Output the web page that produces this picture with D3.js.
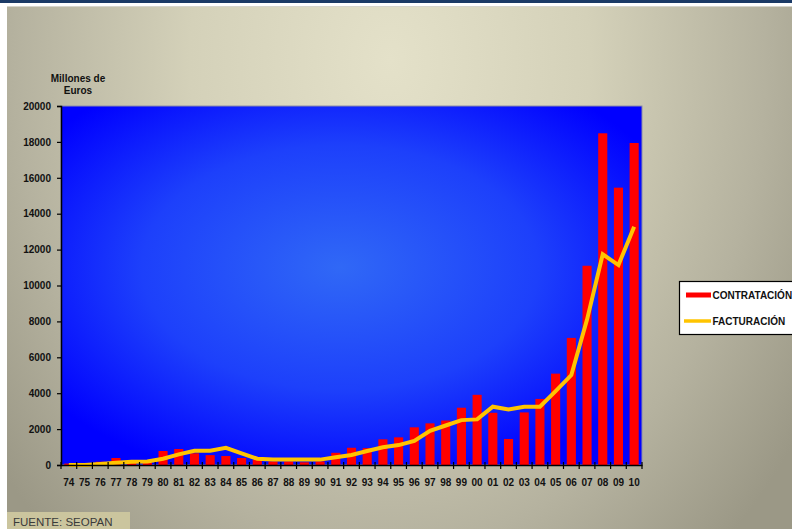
<!DOCTYPE html>
<html>
<head>
<meta charset="utf-8">
<script src="https://cdn.jsdelivr.net/npm/d3@7"></script>
<style>
  html, body { margin: 0; padding: 0; background: #ffffff; }
  svg { display: block; }
  text { font-family: "Liberation Sans", Arial, sans-serif; }
</style>
</head>
<body>
<svg id="chart" width="792" height="529"></svg>
<script>
// Years (two-digit labels) 1974–2010
const categories = ["74","75","76","77","78","79","80","81","82","83","84","85","86","87","88","89",
  "90","91","92","93","94","95","96","97","98","99","00","01","02","03","04","05","06","07","08","09","10"];

// Millones de euros
const contratacion = [80, 30, 180, 390, 150, 130, 780, 890, 650, 550, 500, 390, 280, 200, 200, 150,
  200, 680, 960, 940, 1430, 1540, 2100, 2320, 2480, 3190, 3910, 2910, 1450, 2930, 3680, 5090, 7080,
  11100, 18480, 15450, 17940];
const facturacion = [0, 0, 60, 130, 180, 200, 350, 590, 790, 800, 960, 650, 350, 300, 300, 300,
  300, 430, 560, 780, 990, 1110, 1340, 1900, 2200, 2500, 2540, 3250, 3100, 3250, 3250, 4120, 5010,
  8100, 11740, 11140, 13270];

const yTicks = [0, 2000, 4000, 6000, 8000, 10000, 12000, 14000, 16000, 18000, 20000];
const seriesNames = ["CONTRATACIÓN", "FACTURACIÓN"];

const svg = d3.select("#chart");
const W = 792, H = 529;
const plot = { left: 61, right: 642, top: 106, bottom: 465 };

const defs = svg.append("defs");

// Slide background
const bg = defs.append("radialGradient").attr("id", "bgGrad")
  .attr("gradientUnits", "userSpaceOnUse")
  .attr("cx", 390).attr("cy", 60).attr("r", 500)
  .attr("gradientTransform", "translate(390,60) scale(1,1.3) translate(-390,-60)");
bg.append("stop").attr("offset", "0").attr("stop-color", "#e4e1c9");
bg.append("stop").attr("offset", "0.4").attr("stop-color", "#d4d1b9");
bg.append("stop").attr("offset", "0.75").attr("stop-color", "#b5b29f");
bg.append("stop").attr("offset", "1").attr("stop-color", "#9b9886");

// Plot area fill
const pg = defs.append("radialGradient").attr("id", "plotGrad")
  .attr("cx", "0.48").attr("cy", "0.45").attr("r", "0.62");
pg.append("stop").attr("offset", "0").attr("stop-color", "#3068f6");
pg.append("stop").attr("offset", "0.55").attr("stop-color", "#1d40fb");
pg.append("stop").attr("offset", "1").attr("stop-color", "#0000ff");

// Header band
svg.append("rect").attr("x", 0).attr("y", 0).attr("width", W).attr("height", 3).attr("fill", "#1b3a66");
svg.append("rect").attr("x", 7).attr("y", 6).attr("width", W - 7).attr("height", H - 6).attr("fill", "url(#bgGrad)");
svg.append("line").attr("x1", 7).attr("x2", W).attr("y1", 6.5).attr("y2", 6.5)
  .attr("stroke", "#d6d4cc").attr("stroke-width", 1);

// Scales
const x = d3.scaleBand().domain(categories).range([plot.left, plot.right]).padding(0);
const y = d3.scaleLinear().domain([0, 20000]).range([plot.bottom, plot.top]);
const barW = x.bandwidth() * 0.58;

// Plot background
svg.append("rect")
  .attr("x", plot.left).attr("y", y(20000))
  .attr("width", plot.right - plot.left).attr("height", y(0) - y(20000))
  .attr("fill", "url(#plotGrad)")
  .attr("stroke", "#8c8caa").attr("stroke-width", 1);

// Bars
svg.append("g").selectAll("rect").data(categories).join("rect")
  .attr("x", (d) => x(d) + (x.bandwidth() - barW) / 2)
  .attr("y", (d, i) => y(contratacion[i]))
  .attr("width", barW)
  .attr("height", (d, i) => y(0) - y(contratacion[i]))
  .attr("fill", "#ff0000");

// Line
const line = d3.line()
  .x((d, i) => x(categories[i]) + x.bandwidth() / 2)
  .y((d) => y(d));
svg.append("path").datum(facturacion)
  .attr("d", line)
  .attr("fill", "none")
  .attr("stroke", "#ffc400")
  .attr("stroke-width", 4)
  .attr("stroke-linejoin", "miter")
  .attr("stroke-linecap", "butt");

// Y axis
const yAxis = svg.append("g").attr("transform", `translate(${plot.left},0)`)
  .call(d3.axisLeft(y).tickValues(yTicks).tickFormat(d3.format("d")).tickSize(4).tickPadding(6));
yAxis.select(".domain").attr("stroke", "#000").attr("stroke-width", 1.5);
yAxis.selectAll(".tick line").attr("stroke", "#000").attr("stroke-width", 1.2);
yAxis.selectAll("text").attr("font-size", 10).attr("font-weight", "bold").attr("fill", "#111");

// X axis: labels centred on bands, ticks on band boundaries
const xAxis = svg.append("g").attr("transform", `translate(0,${plot.bottom})`)
  .call(d3.axisBottom(x).tickSize(0).tickPadding(14));
xAxis.select(".domain").attr("stroke", "#000").attr("stroke-width", 1.5);
xAxis.selectAll("text").attr("font-size", 10).attr("font-weight", "bold").attr("fill", "#111");
const bounds = categories.map((c) => x(c)).concat([x(categories[categories.length - 1]) + x.bandwidth()]);
xAxis.append("g").selectAll("line").data(bounds).join("line")
  .attr("x1", (d) => d).attr("x2", (d) => d)
  .attr("y1", -3).attr("y2", 4)
  .attr("stroke", "#000").attr("stroke-width", 1.2);

// Unit title
const unit = svg.append("text").attr("x", 78).attr("y", 82)
  .attr("text-anchor", "middle").attr("font-size", 10).attr("font-weight", "bold").attr("fill", "#111");
unit.append("tspan").attr("x", 78).attr("dy", 0).text("Millones de");
unit.append("tspan").attr("x", 78).attr("dy", 12).text("Euros");

// Legend
const lg = svg.append("g");
lg.append("rect").attr("x", 679.5).attr("y", 281.5).attr("width", 140).attr("height", 53)
  .attr("fill", "#ffffff").attr("stroke", "#000").attr("stroke-width", 1.2);
lg.append("rect").attr("x", 686).attr("y", 292.5).attr("width", 25).attr("height", 5).attr("fill", "#ff0000");
lg.append("line").attr("x1", 684).attr("x2", 711).attr("y1", 321).attr("y2", 321)
  .attr("stroke", "#ffc400").attr("stroke-width", 3.5);
lg.selectAll("text.lbl").data(seriesNames).join("text").attr("class", "lbl")
  .attr("x", 712.5).attr("y", (d, i) => (i === 0 ? 295 : 321.5)).attr("dy", "0.35em")
  .attr("font-size", 10).attr("font-weight", "bold").attr("fill", "#111")
  .text((d) => d);

// Source note
svg.append("rect").attr("x", 7).attr("y", 512).attr("width", 123).attr("height", 17).attr("fill", "#cbc59e");
svg.append("text").attr("x", 13).attr("y", 526)
  .attr("font-family", "Lato, 'Open Sans', sans-serif").attr("font-size", 11.5).attr("fill", "#3a3a3a")
  .text("FUENTE: SEOPAN");
</script>
</body>
</html>
